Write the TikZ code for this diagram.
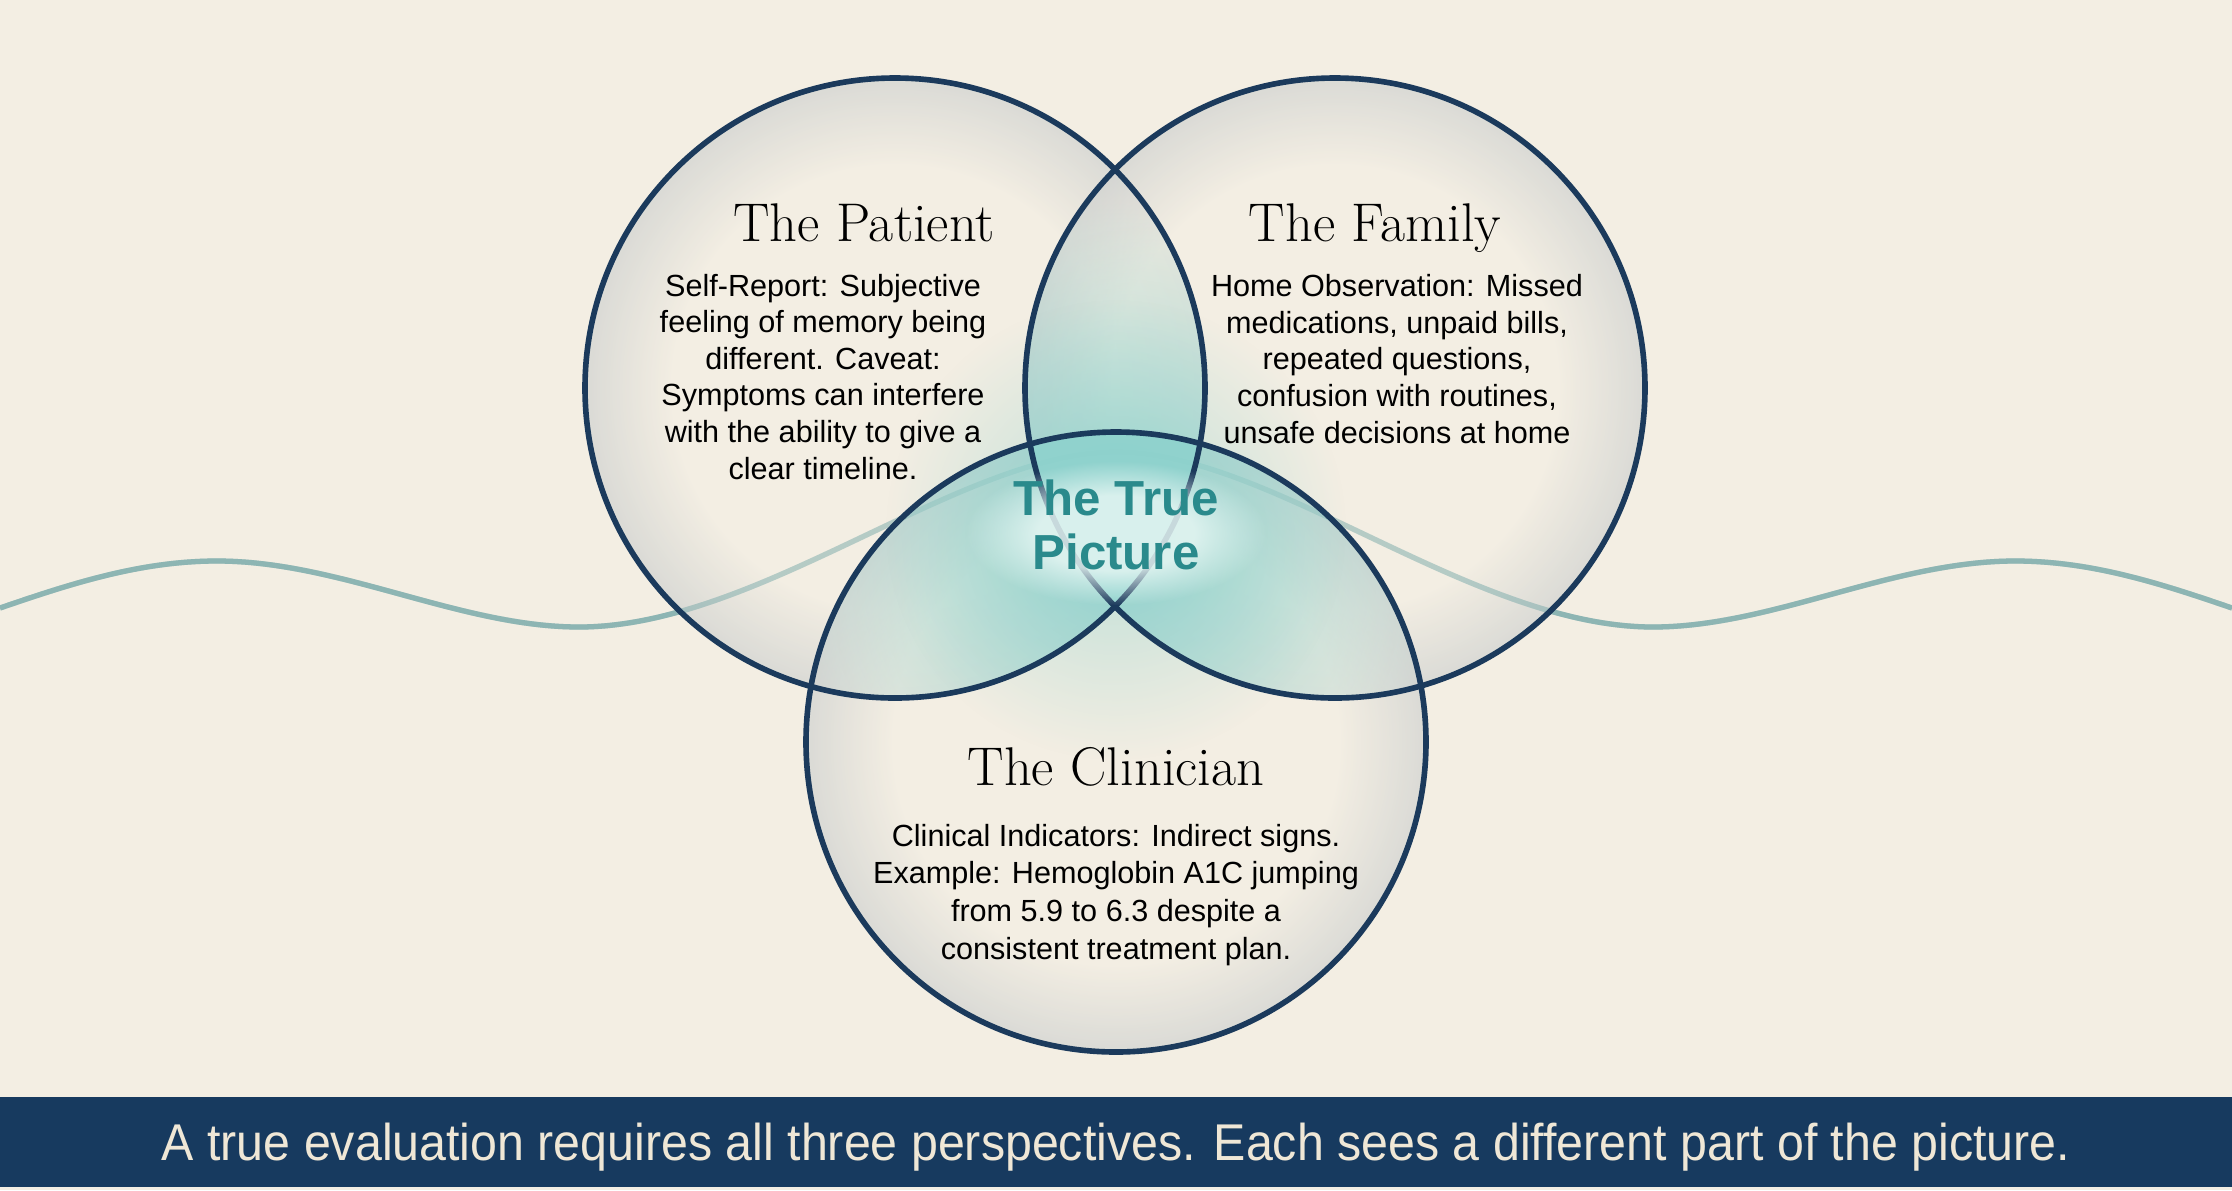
\documentclass[tikz,border=0pt]{standalone}
\usepackage{fontspec}
\setsansfont{Liberation Sans}
\usetikzlibrary{fadings}
\definecolor{bgcream}{HTML}{F3EEE3}
\definecolor{rimgray}{HTML}{D1D3D1}
\definecolor{navy}{HTML}{1B3A5C}
\definecolor{barnavy}{HTML}{173A5F}
\definecolor{wavecol}{HTML}{8DB5B3}
\definecolor{glowteal}{HTML}{8ED2CD}
\definecolor{haloteal}{HTML}{E6F6F3}
\definecolor{trueteal}{HTML}{2A8A8C}
\definecolor{bartext}{HTML}{EFE7D6}
\pgfdeclareradialshading{rim}{\pgfpointorigin}{color(0bp)=(bgcream); color(18bp)=(bgcream); color(25bp)=(rimgray); color(50bp)=(rimgray)}
\pgfdeclareradialshading{halosh}{\pgfpointorigin}{color(0bp)=(white); color(13bp)=(white); color(25bp)=(black); color(50bp)=(black)}
\pgfdeclarefading{halofade}{\pgfuseshading{halosh}}
\tikzfading[name=glowfade, inner color=transparent!10, outer color=transparent!100]

\begin{document}
\begin{tikzpicture}[x=0.01cm,y=-0.01cm,
  ring/.style={draw=navy,line width=1.6pt},
  rimfill/.style={shading=rim,opacity=0.72},
  wave/.style={wavecol,line width=1.5pt},
  title/.style={font=\fontsize{15.5}{18}\selectfont,anchor=base,inner sep=0pt},
  body/.style={font=\sffamily\fontsize{8.7}{10.4}\selectfont,align=center,anchor=base,inner sep=0pt},
  truetext/.style={font=\sffamily\bfseries\fontsize{14}{15.1}\selectfont,align=center,anchor=base,inner sep=0pt}]
\fill[bgcream] (0,0) rectangle (2232,1190);
\useasboundingbox (0,0) rectangle (2232,1190);

\coordinate (patient) at (895,388);
\coordinate (family) at (1335,388);
\coordinate (clinician) at (1116,742);

\def\wavepath{(0,608) .. controls (70,584) and (140,561) .. (217,561)
  .. controls (340,561) and (460,627) .. (579,627)
  .. controls (760,627) and (960,452) .. (1116,452)
  .. controls (1272,452) and (1472,627) .. (1653,627)
  .. controls (1772,627) and (1892,561) .. (2015,561)
  .. controls (2092,561) and (2162,584) .. (2232,608)}
\draw[wave] \wavepath;

\shade[rimfill] (patient) circle[radius=310];
\shade[rimfill] (family) circle[radius=310];
\shade[rimfill] (clinician) circle[radius=310];

\draw[wave,opacity=0.45] \wavepath;

\begin{scope}
\clip (patient) circle[radius=310];
\clip (family) circle[radius=310];
\fill[glowteal,path fading=glowfade] (1116,540) circle[radius=340];
\end{scope}
\begin{scope}
\clip (patient) circle[radius=310];
\clip (clinician) circle[radius=310];
\fill[glowteal,path fading=glowfade] (1116,540) circle[radius=340];
\end{scope}
\begin{scope}
\clip (family) circle[radius=310];
\clip (clinician) circle[radius=310];
\fill[glowteal,path fading=glowfade] (1116,540) circle[radius=340];
\end{scope}
\fill[glowteal,opacity=0.6,path fading=glowfade] (1116,530) circle[radius=230];

\draw[ring] (patient) circle[radius=310];
\draw[ring] (family) circle[radius=310];
\draw[ring] (clinician) circle[radius=310];

\node[title] (ptitle) at (864,241) {The Patient};
\node[title] (ftitle) at (1375,241) {The Family};
\node[title] (ctitle) at (1116,785) {The Clinician};

\node[body] (pbody) at (823,479) {Self-Report: Subjective\\feeling of memory being\\different. Caveat:\\Symptoms can interfere\\with the ability to give a\\clear timeline.};
\node[body] (fbody) at (1397,443) {Home Observation: Missed\\medications, unpaid bills,\\repeated questions,\\confusion with routines,\\unsafe decisions at home};
\node[body,font=\sffamily\fontsize{8.7}{10.7}\selectfont] (cbody) at (1116,959) {Clinical Indicators: Indirect signs.\\Example: Hemoglobin A1C jumping\\from 5.9 to 6.3 despite a\\consistent treatment plan.};

\fill[haloteal,opacity=0.85,path fading=halofade] (1116,533) ellipse[x radius=150,y radius=72];
\node[truetext,text=trueteal] (truepic) at (1116,569) {The True\\Picture};

\fill[barnavy] (0,1097) rectangle (2232,1187);
\node[font=\sffamily\fontsize{14.7}{17}\selectfont,text=bartext,anchor=base,inner sep=0pt] (caption) at (1116,1160)
  {\scalebox{0.935}[1]{A true evaluation requires all three perspectives. Each sees a different part of the picture.}};
\end{tikzpicture}
\end{document}
